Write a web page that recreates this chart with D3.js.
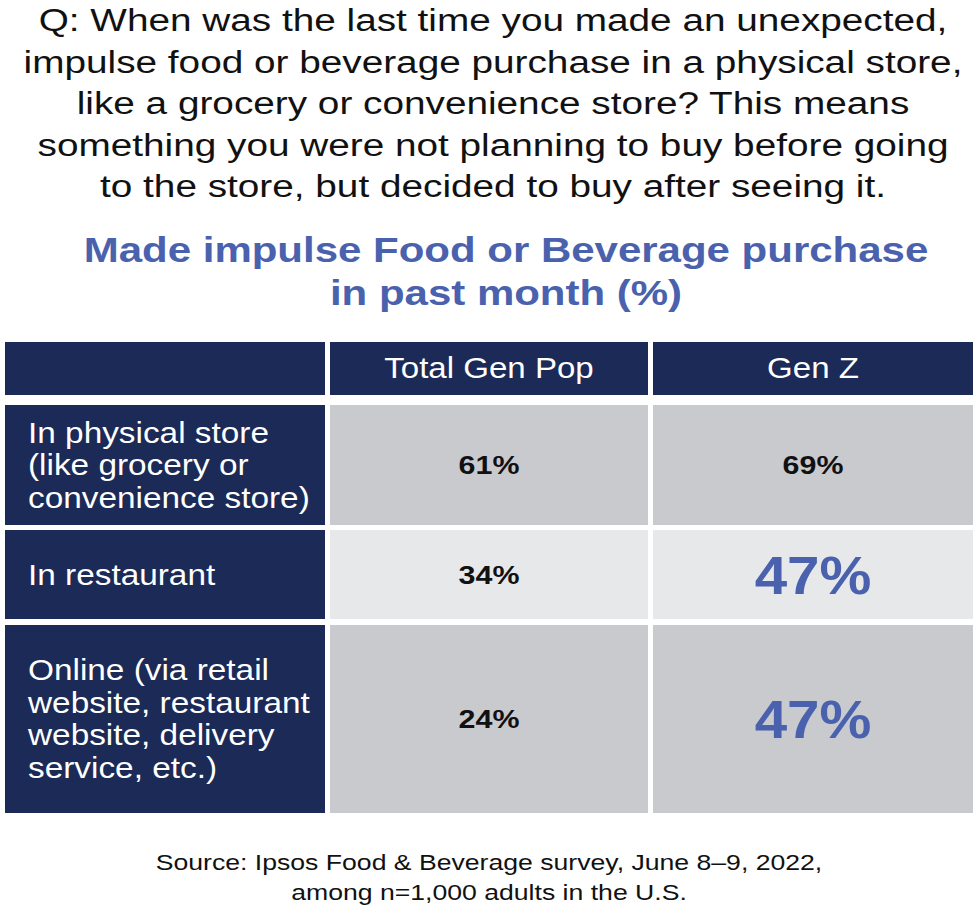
<!DOCTYPE html>
<html><head><meta charset="utf-8">
<script src="https://cdn.jsdelivr.net/npm/d3@7"></script>
<style>body{margin:0;background:#fff}</style></head>
<body><svg id="c" width="979" height="906"></svg>
<script>
const questionLines=["Q: When was the last time you made an unexpected,","impulse food or beverage purchase in a physical store,","like a grocery or convenience store? This means","something you were not planning to buy before going","to the store, but decided to buy after seeing it."];
const titleLines=["Made impulse Food or Beverage purchase","in past month (%)"];
const columns=["Total Gen Pop","Gen Z"];
const rowLabels=[["In physical store","(like grocery or","convenience store)"],["In restaurant"],["Online (via retail","website, restaurant","website, delivery","service, etc.)"]];
const totalGenPop=[61,34,24];
const genZ=[69,47,47];
const highlight=[false,true,true];
const sourceLines=["Source: Ipsos Food & Beverage survey, June 8–9, 2022,","among n=1,000 adults in the U.S."];

const svg=d3.select("#c");
const F="'Liberation Sans', Arial, sans-serif";
const navy="#1b2a56", blue="#4a62ad";
function txt(x,y,s,sx){
  return svg.append("g").attr("transform",`translate(${x},${y}) scale(${sx},1)`).append("text").attr("font-family",F).text(s);
}
questionLines.forEach((t,i)=>txt(493,31+i*41.5,t,1.25).attr("text-anchor","middle").attr("font-size",31).attr("fill","#111"));
titleLines.forEach((t,i)=>txt(506,262+i*43,t,1.2).attr("text-anchor","middle").attr("font-size",35).attr("font-weight","bold").attr("fill",blue));

const x=d3.scaleOrdinal().domain(["label",...columns]).range([5,330,653]);
const w={label:320,[columns[0]]:318,[columns[1]]:320};
svg.append("rect").attr("x",5).attr("y",342).attr("width",320).attr("height",53).attr("fill",navy);
columns.forEach(c=>{
 svg.append("rect").attr("x",x(c)).attr("y",342).attr("width",w[c]).attr("height",53).attr("fill",navy);
 txt(x(c)+w[c]/2,378,c,1.14).attr("text-anchor","middle").attr("font-size",29).attr("fill","#fff");
});
const rowTop=[405,530,625], rowH=[120,89,188], fills=["#c9cacd","#e7e8ea","#c9cacd"];
rowLabels.forEach((lines,i)=>{
 const y0=rowTop[i],h=rowH[i];
 svg.append("rect").attr("x",5).attr("y",y0).attr("width",320).attr("height",h).attr("fill",navy);
 const start=y0+h/2-(lines.length-1)*32.5/2+10;
 lines.forEach((t,j)=>txt(28,start+j*32.5,t,1.15).attr("font-size",29).attr("fill","#fff"));
 [[columns[0],totalGenPop[i],false],[columns[1],genZ[i],highlight[i]]].forEach(([c,v,hl])=>{
  svg.append("rect").attr("x",x(c)).attr("y",y0).attr("width",w[c]).attr("height",h).attr("fill",fills[i]);
  txt(x(c)+w[c]/2,y0+h/2+(hl?19:9),v+"%",hl?1.1:1.17).attr("text-anchor","middle")
   .attr("font-weight","bold").attr("font-size",hl?53:26).attr("fill",hl?blue:"#111");
 });
});
sourceLines.forEach((t,i)=>txt(489,870+i*30,t,1.21).attr("text-anchor","middle").attr("font-size",22).attr("fill","#111"));
</script></body></html>
